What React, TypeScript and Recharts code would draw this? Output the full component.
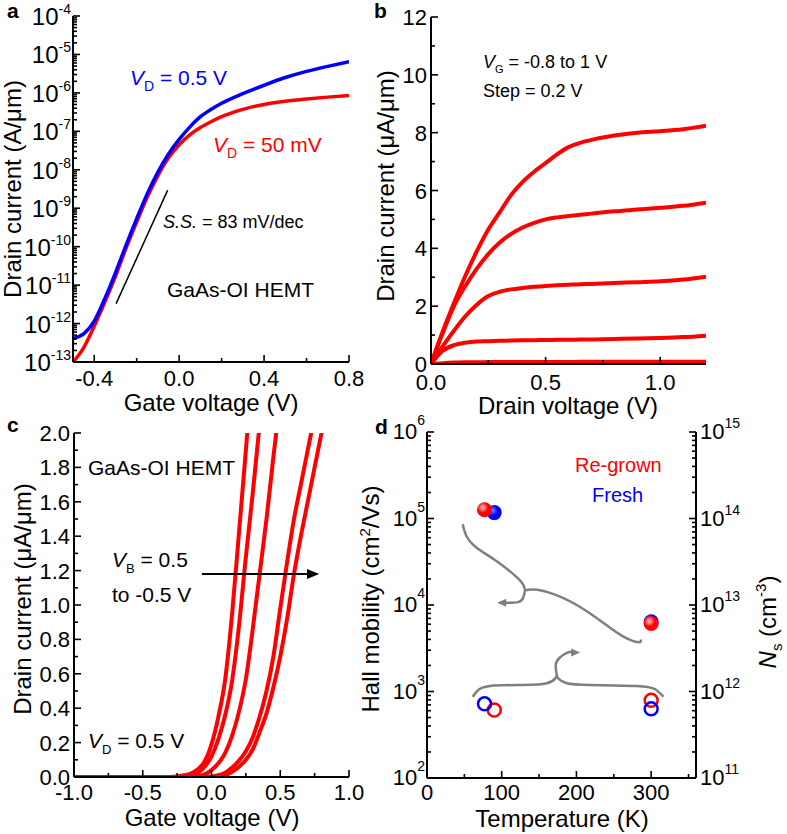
import React from "react";
import {
  LineChart,
  Line,
  ComposedChart,
  Scatter,
  XAxis,
  YAxis,
  ReferenceLine,
  ReferenceDot,
} from "recharts";

const W = 787;
const H = 834;
const FONT = "Arial, 'Liberation Sans', sans-serif";
const RED = "#ff0000";
const BLUE = "#0000ff";
const GREY = "#7f7f7f";

// ---------- a: transfer curves, log scale ----------
const gateA = [-0.5, -0.45, -0.4, -0.35, -0.3, -0.25, -0.2, -0.15, -0.1, -0.05, 0, 0.05, 0.1, 0.15, 0.2, 0.3, 0.4, 0.5, 0.6, 0.7, 0.8];
const idVd05 = [4.07e-13, 5.37e-13, 1.15e-12, 4.47e-12, 2.09e-11, 1.1e-10, 5.37e-10, 2.4e-9, 8.71e-9, 2.57e-8, 6.17e-8, 1.29e-7, 2.4e-7, 3.72e-7, 5.37e-7, 9.55e-7, 1.58e-6, 2.51e-6, 3.63e-6, 4.9e-6, 6.46e-6];
const idVd50m = [1.0e-13, 2.34e-13, 8.51e-13, 3.63e-12, 1.7e-11, 9.12e-11, 4.37e-10, 1.95e-9, 7.08e-9, 2.04e-8, 4.47e-8, 8.13e-8, 1.26e-7, 1.78e-7, 2.4e-7, 3.72e-7, 5.01e-7, 6.03e-7, 6.92e-7, 7.76e-7, 8.51e-7];
const decadesA = [1e-13, 1e-12, 1e-11, 1e-10, 1e-9, 1e-8, 1e-7, 1e-6, 1e-5, 1e-4];
const ticksAX = [-0.4, -0.2, 0, 0.2, 0.4, 0.6, 0.8];
const labelsAX = [-0.4, 0, 0.4, 0.8];
const ssLine = [{ x: -0.297, y: 3.3e-12 }, { x: -0.054, y: 2.95e-9 }];

// ---------- b: output curves ----------
const drainV = [0, 0.05, 0.1, 0.15, 0.2, 0.25, 0.3, 0.35, 0.4, 0.45, 0.5, 0.55, 0.6, 0.65, 0.7, 0.8, 0.9, 1.0, 1.1, 1.2];
const idB1 = [0, 1.1, 2.1, 3.05, 3.9, 4.65, 5.25, 5.85, 6.3, 6.65, 6.95, 7.25, 7.5, 7.65, 7.75, 7.9, 8.0, 8.05, 8.12, 8.24];
const idB2 = [0, 1.05, 2.0, 2.7, 3.3, 3.8, 4.2, 4.5, 4.72, 4.88, 5.0, 5.07, 5.12, 5.16, 5.2, 5.28, 5.34, 5.4, 5.47, 5.58];
const idB3 = [0, 0.6, 1.15, 1.65, 2.05, 2.35, 2.5, 2.58, 2.63, 2.67, 2.7, 2.72, 2.74, 2.76, 2.77, 2.8, 2.83, 2.86, 2.92, 3.02];
const idB4 = [0, 0.45, 0.65, 0.74, 0.78, 0.79, 0.8, 0.81, 0.82, 0.825, 0.83, 0.835, 0.84, 0.845, 0.85, 0.865, 0.88, 0.9, 0.93, 0.98];
const idB5 = [0, 0.03, 0.05, 0.06, 0.06, 0.065, 0.065, 0.07, 0.07, 0.07, 0.07, 0.072, 0.072, 0.074, 0.074, 0.075, 0.076, 0.078, 0.08, 0.08];
const ticksBX = [0, 0.25, 0.5, 0.75, 1.0];
const labelsBX = [0, 0.5, 1.0];
const ticksBY = [0, 1, 2, 3, 4, 5, 6, 7, 8, 9, 10, 11, 12];
const labelsBY = [0, 2, 4, 6, 8, 10, 12];

// ---------- c: transfer curves vs back-gate bias ----------
const gateC1 = [-1, -0.3, -0.2, -0.15, -0.1, -0.05, 0, 0.05, 0.1, 0.15, 0.2, 0.25, 0.3];
const idC1 = [0, 0, 0.01, 0.02, 0.045, 0.09, 0.19, 0.35, 0.57, 0.95, 1.42, 1.9, 2.4];
const gateC2 = [-1, -0.25, -0.15, -0.1, -0.05, 0, 0.05, 0.1, 0.15, 0.2, 0.25, 0.3, 0.35, 0.4];
const idC2 = [0, 0, 0.01, 0.025, 0.06, 0.12, 0.22, 0.36, 0.56, 0.88, 1.28, 1.65, 2.05, 2.45];
const gateC3 = [-1, -0.2, -0.1, -0.05, 0, 0.05, 0.1, 0.15, 0.2, 0.25, 0.3, 0.35, 0.4, 0.45, 0.5];
const idC3 = [0, 0, 0.005, 0.015, 0.04, 0.08, 0.14, 0.24, 0.38, 0.57, 0.86, 1.18, 1.5, 1.86, 2.2];
const gateC4 = [-1, -0.05, 0.05, 0.1, 0.15, 0.2, 0.25, 0.3, 0.35, 0.4, 0.45, 0.5, 0.55, 0.6, 0.65, 0.7, 0.75];
const idC4 = [0, 0, 0.01, 0.025, 0.055, 0.095, 0.15, 0.23, 0.35, 0.5, 0.7, 0.98, 1.25, 1.5, 1.7, 1.9, 2.1];
const gateC5 = [-1, 0, 0.1, 0.15, 0.2, 0.25, 0.3, 0.35, 0.4, 0.45, 0.5, 0.55, 0.6, 0.65, 0.7, 0.75, 0.8, 0.85];
const idC5 = [0, 0, 0.01, 0.03, 0.06, 0.1, 0.16, 0.26, 0.37, 0.52, 0.7, 0.92, 1.18, 1.4, 1.6, 1.8, 2.0, 2.2];
const ticksCX = [-1, -0.75, -0.5, -0.25, 0, 0.25, 0.5, 0.75, 1];
const labelsCX = [-1, -0.5, 0, 0.5, 1];
const ticksCY = [0, 0.1, 0.2, 0.3, 0.4, 0.5, 0.6, 0.7, 0.8, 0.9, 1.0, 1.1, 1.2, 1.3, 1.4, 1.5, 1.6, 1.7, 1.8, 1.9, 2.0];
const labelsCY = [0, 0.2, 0.4, 0.6, 0.8, 1.0, 1.2, 1.4, 1.6, 1.8, 2.0];
const arrowC = [{ x: -0.07, y: 1.18 }, { x: 0.77, y: 1.18 }];

// ---------- d: Hall data ----------
const mobRegrown = [{ t: 77, v: 1.26e5 }, { t: 300, v: 6.1e3 }];
const mobFresh = [{ t: 90, v: 1.17e5 }, { t: 300, v: 6.4e3 }];
const nsRegrown = [{ t: 90, v: 6.1e11 }, { t: 300, v: 7.9e11 }];
const nsFresh = [{ t: 77, v: 7.2e11 }, { t: 300, v: 6.3e11 }];
const decadesDL = [1e2, 1e3, 1e4, 1e5, 1e6];
const decadesDR = [1e11, 1e12, 1e13, 1e14, 1e15];
const ticksDX = [0, 50, 100, 150, 200, 250, 300, 350];
const labelsDX = [0, 100, 200, 300];
// grey guide arrows (drawn in mobility-axis units)
const guideTop = [{ t: 47.8, v: 8.6e4 }, { t: 53.1, v: 6.2e4 }, { t: 66.5, v: 4.6e4 }, { t: 93.3, v: 3.2e4 }, { t: 120, v: 2.1e4 }, { t: 129, v: 1.7e4 }, { t: 131.3, v: 1.48e4 }];
const guideTopRight = [{ t: 131.3, v: 1.48e4 }, { t: 142.4, v: 1.51e4 }, { t: 164.7, v: 1.38e4 }, { t: 200.4, v: 1.0e4 }, { t: 236.2, v: 6.2e3 }, { t: 263, v: 4.3e3 }, { t: 283, v: 3.7e3 }, { t: 286, v: 4.0e3 }];
const guideTopCurl = [{ t: 131.3, v: 1.48e4 }, { t: 129, v: 1.23e4 }, { t: 122.3, v: 1.08e4 }, { t: 104.5, v: 1.06e4 }, { t: 97, v: 1.06e4 }];
const guideTopTip = { t: 94, v: 1.06e4 };
const guideLowLeft = [{ t: 61.2, v: 870 }, { t: 67.4, v: 1020 }, { t: 84.4, v: 1160 }, { t: 129, v: 1190 }, { t: 160.3, v: 1245 }, { t: 171.4, v: 1410 }, { t: 173.7, v: 1550 }];
const guideLowRight = [{ t: 173.7, v: 1550 }, { t: 175.9, v: 1410 }, { t: 187.1, v: 1245 }, { t: 218.3, v: 1190 }, { t: 280.8, v: 1160 }, { t: 305.4, v: 1060 }, { t: 316.5, v: 870 }];
const guideLowCurl = [{ t: 173.7, v: 1550 }, { t: 172.3, v: 2020 }, { t: 177.2, v: 2440 }, { t: 189.3, v: 2840 }, { t: 200, v: 2830 }];
const guideLowTip = { t: 205, v: 2820 };

const tableA = gateA.map((v, i) => ({ v, high: idVd05[i], low: idVd50m[i] }));
const tableB = drainV.map((v, i) => ({ v, c1: idB1[i], c2: idB2[i], c3: idB3[i], c4: idB4[i], c5: idB5[i] }));
const curvesC = [
  gateC1.map((v, i) => ({ v, i: idC1[i] })),
  gateC2.map((v, i) => ({ v, i: idC2[i] })),
  gateC3.map((v, i) => ({ v, i: idC3[i] })),
  gateC4.map((v, i) => ({ v, i: idC4[i] })),
  gateC5.map((v, i) => ({ v, i: idC5[i] })),
];

const withMinors = (decades: number[]) =>
  decades.flatMap((d, i) =>
    i === decades.length - 1 ? [d] : [d, 2 * d, 3 * d, 4 * d, 5 * d, 6 * d, 7 * d, 8 * d, 9 * d]
  );
const isDecade = (v: number) => Math.abs(Math.log10(v) - Math.round(Math.log10(v))) < 1e-6;
const fmt1 = (v: number) => v.toFixed(1);

// plot rectangles in page pixels
type Rect = { l: number; t: number; r: number; b: number };
const RA: Rect = { l: 73, t: 16, r: 349, b: 362 };
const RB: Rect = { l: 431, t: 17, r: 706, b: 364 };
const RC: Rect = { l: 74, t: 433, r: 349, b: 777 };
const RD: Rect = { l: 427, t: 432, r: 696, b: 778 };
const marginOf = (r: Rect, rightAxis = 0) => ({
  top: r.t,
  left: r.l - 60,
  right: W - r.r - rightAxis,
  bottom: H - r.b - 30,
});

// ---------- axis tick renderers: inward tick mark + label ----------
const markColor = "#000";

function xTick(labels: number[], fmt: (v: number) => string, dy: number) {
  return (p: any) => {
    const x = Number(p.x);
    const y = Number(p.y);
    const major = labels.includes(p.payload.value);
    const len = major ? 7 : 4;
    return (
      <g>
        <rect x={x - 0.8} y={y - len} width={1.6} height={len} fill={markColor} />
        {major ? (
          <text x={x} y={y + dy} textAnchor="middle" fontSize={22} fontFamily={FONT} fill="#000">
            {fmt(p.payload.value)}
          </text>
        ) : null}
      </g>
    );
  };
}

function yTick(labels: number[], fmt: (v: number) => string) {
  return (p: any) => {
    const x = Number(p.x);
    const y = Number(p.y);
    const major = labels.includes(p.payload.value);
    const len = major ? 7 : 4;
    return (
      <g>
        <rect x={x} y={y - 0.8} width={len} height={1.6} fill={markColor} />
        {major ? (
          <text x={x - 4} y={y + 8} textAnchor="end" fontSize={22} fontFamily={FONT} fill="#000">
            {fmt(p.payload.value)}
          </text>
        ) : null}
      </g>
    );
  };
}

function logTick(side: "left" | "right", size: number, baseDy: number, supDy: number) {
  return (p: any) => {
    const x = Number(p.x);
    const y = Number(p.y);
    const major = isDecade(p.payload.value);
    const len = major ? 7 : 4;
    const exp = Math.round(Math.log10(p.payload.value));
    return (
      <g>
        <rect x={side === "left" ? x : x - len} y={y - 0.8} width={len} height={1.6} fill={markColor} />
        {major ? (
          <text
            x={side === "left" ? x - 2 : x + 4}
            y={y + baseDy}
            textAnchor={side === "left" ? "end" : "start"}
            fontSize={size}
            fontFamily={FONT}
            fill="#000"
          >
            <tspan>10</tspan>
            <tspan dy={supDy} fontSize={14}>
              {String(exp)}
            </tspan>
          </text>
        ) : null}
      </g>
    );
  };
}

const axisCommon = {
  tickSize: 0,
  tickMargin: 0,
  tickLine: false,
  axisLine: { stroke: "#000", strokeWidth: 2 },
  interval: 0 as const,
  allowDataOverflow: true,
};

// top / right edges of the box
const topEdge = (domain: number[]) => (
  <XAxis xAxisId="top" orientation="top" type="number" domain={domain} height={0} tick={false} tickLine={false} axisLine={{ stroke: "#000", strokeWidth: 2 }} allowDataOverflow />
);
const rightEdge = (domain: number[]) => (
  <YAxis yAxisId="edge" orientation="right" type="number" domain={domain} width={0} tick={false} tickLine={false} axisLine={{ stroke: "#000", strokeWidth: 2 }} allowDataOverflow />
);

const Layer = ({ children }: { children: React.ReactNode }) => (
  <div style={{ position: "absolute", left: 0, top: 0 }}>{children}</div>
);

function PanelA() {
  return (
    <LineChart width={W} height={H} data={tableA} margin={marginOf(RA)}>
      <XAxis type="number" dataKey="v" domain={[-0.5, 0.8]} ticks={ticksAX} height={30} tick={xTick(labelsAX, fmt1, 24)} {...axisCommon} />
      <YAxis type="number" scale="log" domain={[1e-13, 1e-4]} ticks={withMinors(decadesA)} width={60} tick={logTick("left", 24, 9, -11)} {...axisCommon} />
      {topEdge([-0.5, 0.8])}
      {rightEdge([0, 1])}
      <Line type="monotone" dataKey="low" stroke={RED} strokeWidth={3.5} dot={false} activeDot={false} isAnimationActive={false} />
      <Line type="monotone" dataKey="high" stroke={BLUE} strokeWidth={3.5} dot={false} activeDot={false} isAnimationActive={false} />
      <ReferenceLine segment={ssLine} stroke="#000" strokeWidth={1.5} />
    </LineChart>
  );
}

function PanelB() {
  return (
    <LineChart width={W} height={H} data={tableB} margin={marginOf(RB)}>
      <XAxis type="number" dataKey="v" domain={[0, 1.2]} ticks={ticksBX} height={30} tick={xTick(labelsBX, fmt1, 26)} {...axisCommon} />
      <YAxis type="number" domain={[0, 12]} ticks={ticksBY} width={60} tick={yTick(labelsBY, (v) => String(v))} {...axisCommon} />
      {topEdge([0, 1.2])}
      {rightEdge([0, 12])}
      {["c5", "c4", "c3", "c2", "c1"].map((k) => (
        <Line key={k} type="monotone" dataKey={k} stroke={RED} strokeWidth={4} dot={false} activeDot={false} isAnimationActive={false} />
      ))}
    </LineChart>
  );
}

const arrowRight = (p: any) => (
  <polygon points={`${p.cx},${p.cy} ${p.cx - 12},${p.cy - 5} ${p.cx - 12},${p.cy + 5}`} fill="#000" />
);

function PanelC() {
  return (
    <LineChart width={W} height={H} margin={marginOf(RC)}>
      <XAxis type="number" dataKey="v" domain={[-1, 1]} ticks={ticksCX} height={30} tick={xTick(labelsCX, fmt1, 23)} {...axisCommon} />
      <YAxis type="number" domain={[0, 2]} ticks={ticksCY} width={60} tick={yTick(labelsCY, fmt1)} {...axisCommon} />
      {topEdge([-1, 1])}
      {rightEdge([0, 2])}
      {curvesC.map((d, i) => (
        <Line key={i} data={d} type="monotone" dataKey="i" stroke={RED} strokeWidth={4} dot={false} activeDot={false} isAnimationActive={false} />
      ))}
      <ReferenceLine segment={arrowC} stroke="#000" strokeWidth={2} />
      <ReferenceDot x={0.782} y={1.18} r={0} shape={arrowRight} />
    </LineChart>
  );
}

const ball = (color: string, light: string, id: string) => (p: any) => (
  <g>
    <defs>
      <radialGradient id={id} cx="38%" cy="35%" r="65%">
        <stop offset="0%" stopColor={light} />
        <stop offset="55%" stopColor={color} />
        <stop offset="100%" stopColor={color} />
      </radialGradient>
    </defs>
    <circle cx={p.cx} cy={p.cy} r={7.5} fill={`url(#${id})`} />
  </g>
);
const ring = (color: string) => (p: any) => (
  <circle cx={p.cx} cy={p.cy} r={6.5} fill="none" stroke={color} strokeWidth={2.5} />
);
const greyLeft = (p: any) => (
  <polygon points={`${p.cx},${p.cy} ${p.cx + 9},${p.cy - 4} ${p.cx + 9},${p.cy + 4}`} fill={GREY} />
);
const greyRight = (p: any) => (
  <polygon points={`${p.cx},${p.cy} ${p.cx - 9},${p.cy - 4} ${p.cx - 9},${p.cy + 4}`} fill={GREY} />
);

function PanelD() {
  const guide = (d: { t: number; v: number }[], k: string) => (
    <Line key={k} yAxisId="left" data={d} type="natural" dataKey="v" stroke={GREY} strokeWidth={2.5} dot={false} activeDot={false} isAnimationActive={false} />
  );
  return (
    <ComposedChart width={W} height={H} margin={marginOf(RD, 60)}>
      <XAxis type="number" dataKey="t" domain={[0, 360]} ticks={ticksDX} height={30} tick={xTick(labelsDX, (v) => String(v), 22)} {...axisCommon} />
      {topEdge([0, 360])}
      <YAxis yAxisId="left" type="number" scale="log" domain={[1e2, 1e6]} ticks={withMinors(decadesDL)} width={60} tick={logTick("left", 22, 7, -14)} {...axisCommon} />
      <YAxis yAxisId="right" orientation="right" type="number" scale="log" domain={[1e11, 1e15]} ticks={withMinors(decadesDR)} width={60} tick={logTick("right", 22, 7, -11)} {...axisCommon} />
      {guide(guideTop, "g1")}
      {guide(guideTopRight, "g2")}
      {guide(guideTopCurl, "g3")}
      {guide(guideLowLeft, "g4")}
      {guide(guideLowRight, "g5")}
      {guide(guideLowCurl, "g6")}
      <ReferenceDot yAxisId="left" x={guideTopTip.t} y={guideTopTip.v} r={0} shape={greyLeft} />
      <ReferenceDot yAxisId="left" x={guideLowTip.t} y={guideLowTip.v} r={0} shape={greyRight} />
      <Scatter yAxisId="left" data={mobFresh} dataKey="v" shape={ball(BLUE, "#8080ff", "ballBlue")} isAnimationActive={false} />
      <Scatter yAxisId="left" data={mobRegrown} dataKey="v" shape={ball(RED, "#ffc8c8", "ballRed")} isAnimationActive={false} />
      <Scatter yAxisId="right" data={nsRegrown} dataKey="v" shape={ring(RED)} isAnimationActive={false} />
      <Scatter yAxisId="right" data={nsFresh} dataKey="v" shape={ring(BLUE)} isAnimationActive={false} />
    </ComposedChart>
  );
}

function Labels() {
  const base = { fontFamily: FONT, fill: "#000" };
  const title = { ...base, fontSize: 24, textAnchor: "middle" as const };
  const note = { ...base, fontSize: 21 };
  return (
    <svg width={W} height={H} style={{ position: "absolute", left: 0, top: 0, pointerEvents: "none" }}>
      <text x={7} y={18} fontSize={21} fontWeight="bold" {...base}>a</text>
      <text x={374} y={18} fontSize={21} fontWeight="bold" {...base}>b</text>
      <text x={7} y={432} fontSize={21} fontWeight="bold" {...base}>c</text>
      <text x={375} y={434} fontSize={21} fontWeight="bold" {...base}>d</text>

      {/* a */}
      <text transform="translate(21,189) rotate(-90)" {...title}>Drain current (A/μm)</text>
      <text x={211} y={411} {...title}>Gate voltage (V)</text>
      <text x={130} y={85} {...note} fill={BLUE}>
        <tspan fontStyle="italic">V</tspan>
        <tspan fontSize={14} dy={6}>D</tspan>
        <tspan dy={-6}> = 0.5 V</tspan>
      </text>
      <text x={213} y={152} {...note} fill={RED}>
        <tspan fontStyle="italic">V</tspan>
        <tspan fontSize={14} dy={6}>D</tspan>
        <tspan dy={-6}> = 50 mV</tspan>
      </text>
      <text x={163} y={228} {...base} fontSize={18}>
        <tspan fontStyle="italic">S.S.</tspan>
        <tspan> = 83 mV/dec</tspan>
      </text>
      <text x={167} y={297} {...note}>GaAs-OI HEMT</text>

      {/* b */}
      <text transform="translate(394,186) rotate(-90)" {...title}>Drain current (μA/μm)</text>
      <text x={568} y={414} {...title}>Drain voltage (V)</text>
      <text x={483} y={68} {...base} fontSize={18}>
        <tspan fontStyle="italic">V</tspan>
        <tspan fontSize={11} dy={5}>G</tspan>
        <tspan dy={-5}> = -0.8 to 1 V</tspan>
      </text>
      <text x={483} y={97} {...base} fontSize={18}>Step = 0.2 V</text>

      {/* c */}
      <text transform="translate(31,599) rotate(-90)" {...title}>Drain current (μA/μm)</text>
      <text x={212} y={826} {...title}>Gate voltage (V)</text>
      <text x={88} y={475} {...note}>GaAs-OI HEMT</text>
      <text x={112} y={567} {...note}>
        <tspan fontStyle="italic">V</tspan>
        <tspan fontSize={13} dy={6}>B</tspan>
        <tspan dy={-6}> = 0.5</tspan>
      </text>
      <text x={112} y={602} {...note}>to -0.5 V</text>
      <text x={88} y={748} {...note}>
        <tspan fontStyle="italic">V</tspan>
        <tspan fontSize={13} dy={6}>D</tspan>
        <tspan dy={-6}> = 0.5 V</tspan>
      </text>

      {/* d */}
      <text transform="translate(379,599) rotate(-90)" {...title}>
        <tspan>Hall mobility (cm</tspan>
        <tspan fontSize={15} dy={-9}>2</tspan>
        <tspan dy={9}>/Vs)</tspan>
      </text>
      <text transform="translate(776,622) rotate(-90)" {...title}>
        <tspan fontStyle="italic">N</tspan>
        <tspan fontSize={15} dy={6}>s</tspan>
        <tspan dy={-6}> (cm</tspan>
        <tspan fontSize={15} dy={-10}>-3</tspan>
        <tspan dy={10}>)</tspan>
      </text>
      <text x={562} y={827} {...title}>Temperature (K)</text>
      <text x={575} y={472} {...base} fontSize={20} fill={RED}>Re-grown</text>
      <text x={592} y={502} {...base} fontSize={20} fill={BLUE}>Fresh</text>
    </svg>
  );
}

export default function App() {
  return (
    <div style={{ position: "absolute", left: 0, top: 0, width: W, height: H, background: "#fff", overflow: "hidden" }}>
      <Layer><PanelA /></Layer>
      <Layer><PanelB /></Layer>
      <Layer><PanelC /></Layer>
      <Layer><PanelD /></Layer>
      <Labels />
    </div>
  );
}
